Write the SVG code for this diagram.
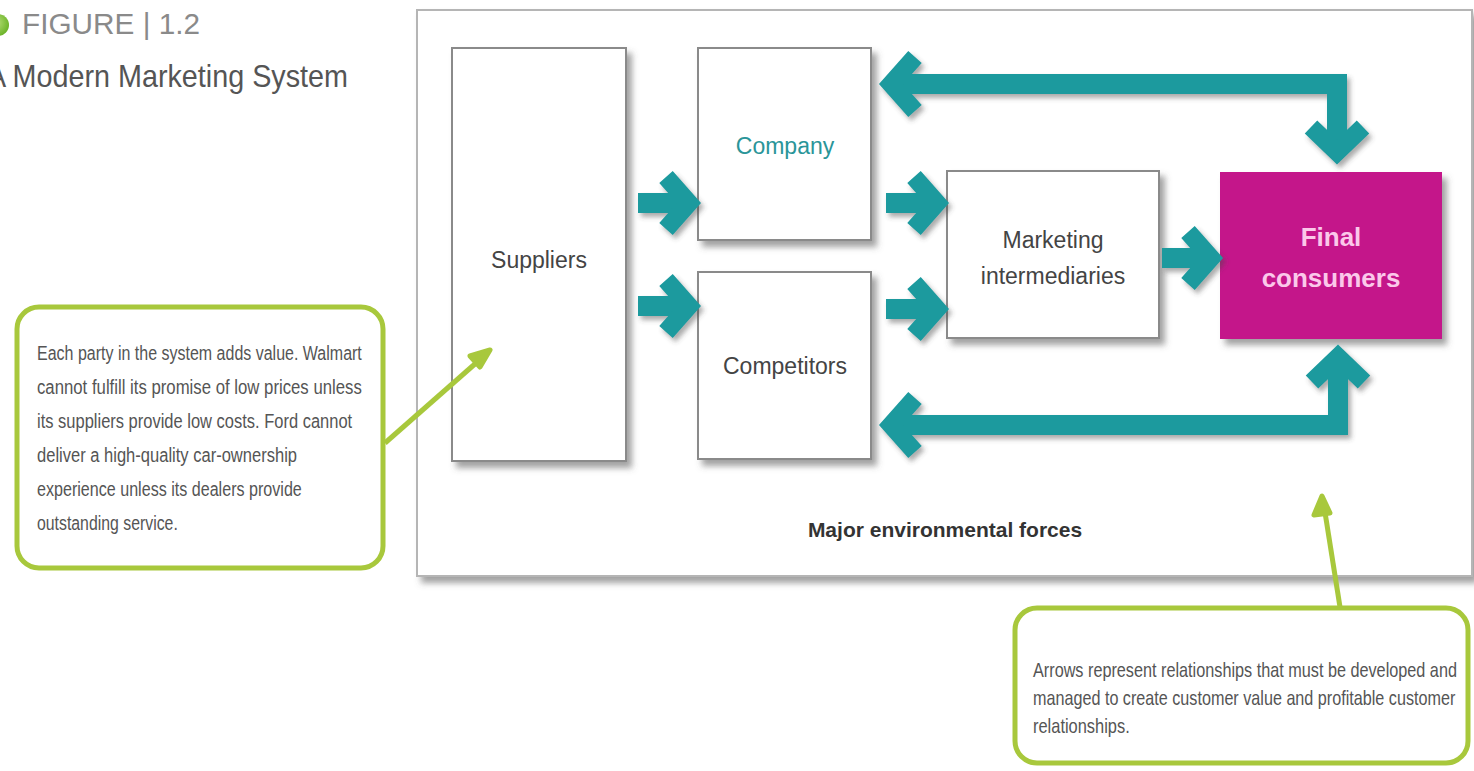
<svg xmlns="http://www.w3.org/2000/svg" width="1474" height="771" viewBox="0 0 1474 771">
<defs>
<filter id="sh" x="-10%" y="-10%" width="130%" height="130%">
<feDropShadow dx="5" dy="6" stdDeviation="3" flood-color="#555" flood-opacity="0.55"/>
</filter>
<filter id="ash" x="-20%" y="-20%" width="140%" height="140%">
<feDropShadow dx="3" dy="4" stdDeviation="2.5" flood-color="#444" flood-opacity="0.45"/>
</filter>
<radialGradient id="dot" cx="0.4" cy="0.4" r="0.6">
<stop offset="0" stop-color="#b9e07a"/>
<stop offset="1" stop-color="#6fb52c"/>
</radialGradient>
</defs>
<style>
.box{fill:#fff;stroke:#8a8a8a;stroke-width:2;filter:url(#sh)}
.lbl{font-family:"Liberation Sans",Arial,sans-serif;font-size:23px;fill:#444;text-anchor:middle}
.fc{fill:#fbc8ea;font-weight:bold;font-size:26px}
.ta{fill:none;stroke:#1b9a9e;stroke-linejoin:miter;stroke-linecap:butt}
.shaft{stroke-width:20}
.head{stroke-width:18}
.callout{fill:#fff;stroke:#a8c83c;stroke-width:5}
.ptr{fill:none;stroke:#a8c83c;stroke-width:5}
.ctext{font-family:"Liberation Sans",Arial,sans-serif;font-size:21px;fill:#555}
.rtext{font-family:"Liberation Sans",Arial,sans-serif;font-size:20px;fill:#555}
</style>
<rect width="1474" height="771" fill="#fff"/>
<g id="title">
<circle cx="-2" cy="25" r="11" fill="url(#dot)"/>
<text x="22" y="34" font-family="Liberation Sans,Arial,sans-serif" font-size="30" fill="#8a8a8a" textLength="178" lengthAdjust="spacingAndGlyphs">FIGURE | 1.2</text>
<text x="-13" y="87" font-family="Liberation Sans,Arial,sans-serif" font-size="32" fill="#555" textLength="361" lengthAdjust="spacingAndGlyphs">A Modern Marketing System</text>
</g>
<g id="frame">
<rect x="417" y="10" width="1055" height="566" fill="#fff" stroke="#b5b5b5" stroke-width="2" filter="url(#sh)"/>
<text x="945" y="537" font-family="Liberation Sans,Arial,sans-serif" font-size="21" font-weight="bold" fill="#333" text-anchor="middle">Major environmental forces</text>
</g>
<g id="suppliers">
<rect class="box" x="452" y="48" width="174" height="413"/>
<text class="lbl" x="539" y="268">Suppliers</text>
</g>
<g id="company">
<rect class="box" x="698" y="48" width="173" height="192"/>
<text class="lbl" x="785" y="154" style="fill:#2a9599">Company</text>
</g>
<g id="competitors">
<rect class="box" x="698" y="272" width="173" height="187"/>
<text class="lbl" x="785" y="374">Competitors</text>
</g>
<g id="intermediaries">
<rect class="box" x="947" y="171" width="212" height="167"/>
<text class="lbl" x="1053" y="248">Marketing</text>
<text class="lbl" x="1053" y="284">intermediaries</text>
</g>
<g id="consumers">
<rect x="1220" y="172" width="222" height="167" fill="#c4128a" filter="url(#sh)"/>
<text class="lbl fc" x="1331" y="246">Final</text>
<text class="lbl fc" x="1331" y="287">consumers</text>
</g>
<g id="connectors" filter="url(#ash)">
<path class="ta shaft" d="M638 203H680"/>
<path class="ta head" d="M666 177L689 203L666 229"/>
<path class="ta shaft" d="M638 306H680"/>
<path class="ta head" d="M666 280L689 306L666 332"/>
<path class="ta shaft" d="M886 203H928"/>
<path class="ta head" d="M914 177L937 203L914 229"/>
<path class="ta shaft" d="M886 309H928"/>
<path class="ta head" d="M914 283L937 309L914 335"/>
<path class="ta shaft" d="M1162 258H1202"/>
<path class="ta head" d="M1188 232L1211 258L1188 284"/>
<path class="ta shaft" d="M898 84H1337V143"/>
<path class="ta head" d="M915 57L891 84L915 111"/>
<path class="ta head" d="M1311 127L1337 152L1363 127"/>
<path class="ta shaft" d="M898 425H1338V368"/>
<path class="ta head" d="M915 398L891 425L915 452"/>
<path class="ta head" d="M1312 382L1338 357L1364 382"/>
</g>
<g id="callout-left">
<rect class="callout" x="17" y="307" width="366" height="261" rx="22"/>
<path class="ptr" d="M385 443L484 356"/>
<path d="M490 350L470 356L480 367Z" fill="#a8c83c" stroke="#a8c83c" stroke-width="5" stroke-linejoin="round"/>
<g transform="translate(37 0) scale(0.8 1)">
<text class="ctext" x="0" y="360" textLength="406" lengthAdjust="spacingAndGlyphs">Each party in the system adds value. Walmart</text>
<text class="ctext" x="0" y="394" textLength="406" lengthAdjust="spacingAndGlyphs">cannot fulfill its promise of low prices unless</text>
<text class="ctext" x="0" y="428" textLength="394" lengthAdjust="spacingAndGlyphs">its suppliers provide low costs. Ford cannot</text>
<text class="ctext" x="0" y="462" textLength="325" lengthAdjust="spacingAndGlyphs">deliver a high-quality car-ownership</text>
<text class="ctext" x="0" y="496" textLength="331" lengthAdjust="spacingAndGlyphs">experience unless its dealers provide</text>
<text class="ctext" x="0" y="530" textLength="176" lengthAdjust="spacingAndGlyphs">outstanding service.</text>
</g>
</g>
<g id="callout-right">
<rect class="callout" x="1015" y="608" width="453" height="155" rx="22"/>
<path class="ptr" d="M1340 607L1324 506"/>
<path d="M1322 496L1314 515L1330 513Z" fill="#a8c83c" stroke="#a8c83c" stroke-width="5" stroke-linejoin="round"/>
<g transform="translate(1033 0) scale(0.82 1)">
<text class="rtext" x="0" y="677" textLength="517" lengthAdjust="spacingAndGlyphs">Arrows represent relationships that must be developed and</text>
<text class="rtext" x="0" y="705" textLength="515" lengthAdjust="spacingAndGlyphs">managed to create customer value and profitable customer</text>
<text class="rtext" x="0" y="733" textLength="118" lengthAdjust="spacingAndGlyphs">relationships.</text>
</g>
</g>
</svg>
